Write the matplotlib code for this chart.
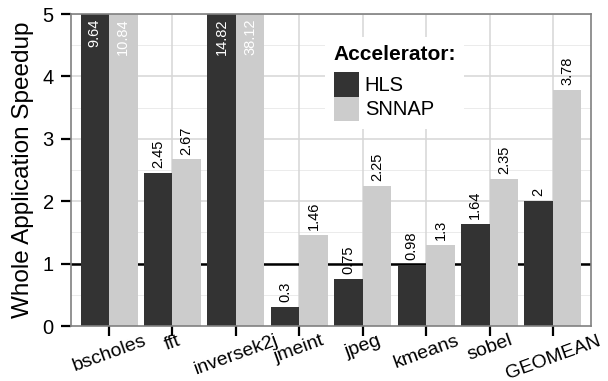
import numpy as np
import matplotlib
matplotlib.use("Agg")
import matplotlib.pyplot as plt

plt.rcParams['font.family'] = ['Liberation Sans', 'DejaVu Sans']

benchmarks = ['bscholes', 'fft', 'inversek2j', 'jmeint', 'jpeg', 'kmeans', 'sobel', 'GEOMEAN']
hls = [9.64, 2.45, 14.82, 0.3, 0.75, 0.98, 1.64, 2]
snnap = [10.84, 2.67, 38.12, 1.46, 2.25, 1.3, 2.35, 3.78]
series = [('HLS', hls, '#333333'), ('SNNAP', snnap, '#cccccc')]
ymax = 5

fig = plt.figure(figsize=(6.08, 3.81), dpi=100)
ax = fig.add_axes([71/608, 1 - 326/381, 520/608, 312/381])

x = np.arange(len(benchmarks))
w = 0.45

# grid
for y in np.arange(0.5, ymax, 1.0):
    ax.axhline(y, color='#ebebeb', lw=0.7, zorder=0)
for y in range(1, ymax + 1):
    ax.axhline(y, color='#d6d6d6', lw=1.1, zorder=0)
for xi in x:
    ax.axvline(xi, color='#d6d6d6', lw=1.1, zorder=0)
ax.axhline(1, color='black', lw=1.8, zorder=1)

for i, (name, vals, col) in enumerate(series):
    pos = x - w / 2 + i * w
    ax.bar(pos, vals, width=w, color=col, label=name, zorder=2)
    for p, v in zip(pos, vals):
        txt = f"{v:g}"
        if v > ymax:
            ax.annotate(txt, (p, ymax), xytext=(0, -3), textcoords='offset points',
                        rotation=90, ha='center', va='top', color='white',
                        fontsize=10.5, zorder=4)
        else:
            ax.annotate(txt, (p, v), xytext=(0, 3.5), textcoords='offset points',
                        rotation=90, ha='center', va='bottom', color='black',
                        fontsize=10.5, zorder=4)

ax.set_xlim(-0.6, len(benchmarks) - 0.4)
ax.set_ylim(0, ymax)
ax.set_xticks(x)
ax.set_xticklabels(benchmarks, rotation=20, ha='center', fontsize=14)
ax.set_yticks(range(0, ymax + 1))
ax.tick_params(axis='y', labelsize=14.5, length=7.5, width=1.6, pad=5)
ax.tick_params(axis='x', length=7.5, width=1.6, pad=-3)
ax.set_ylabel('Whole Application Speedup', fontsize=17.5, labelpad=6)
for s in ax.spines.values():
    s.set_color('#808080')
    s.set_linewidth(1.2)

leg = ax.legend(title='Accelerator:', loc='upper left',
                bbox_to_anchor=(0.47, 0.96), fontsize=14.5,
                title_fontproperties={'weight': 'bold', 'size': 15},
                frameon=True, facecolor='white', edgecolor='none', framealpha=1,
                fancybox=False, handlelength=1.25, handleheight=1.5,
                labelspacing=0.0, handletextpad=0.3, borderpad=0.4,
                alignment='left')
leg._legend_box.sep = 6
leg.set_zorder(3)

fig.savefig('out.png', dpi=100)
